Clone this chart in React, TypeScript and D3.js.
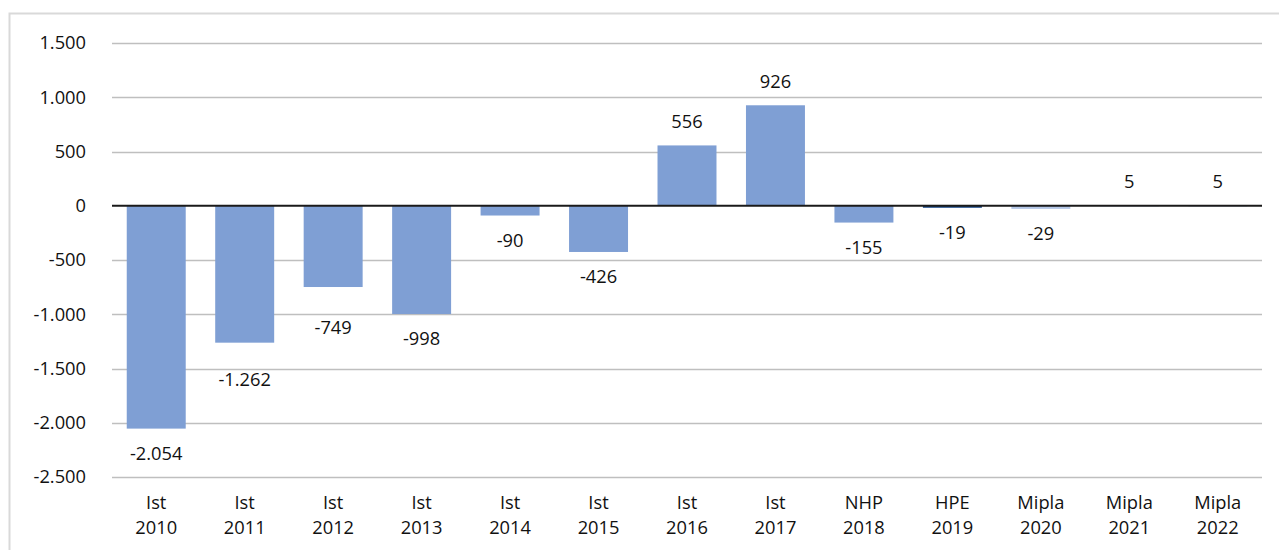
import { useEffect, useRef } from 'react';
import * as d3 from 'd3';

const labelsTop = ['Ist', 'Ist', 'Ist', 'Ist', 'Ist', 'Ist', 'Ist', 'Ist', 'NHP', 'HPE', 'Mipla', 'Mipla', 'Mipla'];
const labelsYear = ['2010', '2011', '2012', '2013', '2014', '2015', '2016', '2017', '2018', '2019', '2020', '2021', '2022'];
const values = [-2054, -1262, -749, -998, -90, -426, 556, 926, -155, -19, -29, 5, 5];
const barColors = ['#7f9fd4', '#7f9fd4', '#7f9fd4', '#7f9fd4', '#7f9fd4', '#7f9fd4', '#7f9fd4', '#7f9fd4', '#7f9fd4', '#1f4e8c', '#b4c7e7', '#7f9fd4', '#7f9fd4'];
const yTicks = [1500, 1000, 500, 0, -500, -1000, -1500, -2000, -2500];
// manual nudges of data labels, as in the original (px)
const labelNudge = [0, 12, 16, 0, 0, 0, 0, 0, 0, 0, 0, 0, 0];

const fmt = (v: number) => {
  const s = d3.format(',')(Math.abs(v)).replace(/,/g, '.');
  return (v < 0 ? '-' : '') + s;
};

export default function App() {
  const ref = useRef<SVGSVGElement>(null);

  useEffect(() => {
    const w = 1279;
    const h = 550;
    const font = '"Open Sans", "Noto Sans", sans-serif';
    const fs = 18.3;

    const svg = d3.select(ref.current).attr('width', w).attr('height', h);
    svg.selectAll('*').remove();

    // outer frame
    svg
      .append('path')
      .attr('d', `M9.5,${h} V13.5 H${w}`)
      .attr('fill', 'none')
      .attr('stroke', '#d9d9d9')
      .attr('stroke-width', 2);

    const x = d3
      .scaleBand()
      .domain(labelsYear)
      .range([112, 1262])
      .paddingInner(1 / 3)
      .paddingOuter(1 / 6);

    const y = d3.scaleLinear().domain([-2500, 1500]).range([477, 43]);

    svg
      .append('g')
      .selectAll('line')
      .data(yTicks.filter(d => d !== 0))
      .join('line')
      .attr('x1', 112)
      .attr('x2', 1262)
      .attr('y1', d => Math.round(y(d)) + 0.5)
      .attr('y2', d => Math.round(y(d)) + 0.5)
      .attr('stroke', '#bfbfbf')
      .attr('stroke-width', 1.5);

    svg
      .append('g')
      .selectAll('text')
      .data(yTicks)
      .join('text')
      .attr('x', 86)
      .attr('y', d => y(d))
      .attr('dy', '0.35em')
      .attr('text-anchor', 'end')
      .attr('font-family', font)
      .attr('font-size', fs)
      .attr('fill', '#111')
      .text(d => fmt(d));

    svg
      .append('g')
      .selectAll('rect')
      .data(values)
      .join('rect')
      .attr('x', (d, i) => x(labelsYear[i]))
      .attr('width', x.bandwidth())
      .attr('y', d => y(Math.max(0, d)))
      .attr('height', d => Math.max(1, Math.abs(y(d) - y(0))))
      .attr('fill', (d, i) => barColors[i]);

    svg
      .append('line')
      .attr('x1', 112)
      .attr('x2', 1262)
      .attr('y1', y(0))
      .attr('y2', y(0))
      .attr('stroke', '#1a1a1a')
      .attr('stroke-width', 2);

    svg
      .append('g')
      .selectAll('text')
      .data(values)
      .join('text')
      .attr('x', (d, i) => x(labelsYear[i]) + x.bandwidth() / 2)
      .attr('y', (d, i) => (d >= 0 ? y(d) - 24 : y(d) + 25 + labelNudge[i]))
      .attr('dy', '0.35em')
      .attr('text-anchor', 'middle')
      .attr('font-family', font)
      .attr('font-size', fs)
      .attr('fill', '#111')
      .text(d => fmt(d));

    const xl = svg
      .append('g')
      .selectAll('text')
      .data(labelsYear)
      .join('text')
      .attr('text-anchor', 'middle')
      .attr('font-family', font)
      .attr('font-size', fs)
      .attr('fill', '#111');

    xl.append('tspan')
      .attr('x', d => x(d) + x.bandwidth() / 2)
      .attr('y', 503)
      .attr('dy', '0.35em')
      .text((d, i) => labelsTop[i]);

    xl.append('tspan')
      .attr('x', d => x(d) + x.bandwidth() / 2)
      .attr('y', 528)
      .attr('dy', '0.35em')
      .text(d => d);

    return () => svg.selectAll('*').remove();
  }, []);

  return (
    <svg
      ref={ref}
      style={{ position: 'absolute', left: 0, top: 0, display: 'block' }}
      role="img"
      aria-label="Bar chart"
    />
  );
}
